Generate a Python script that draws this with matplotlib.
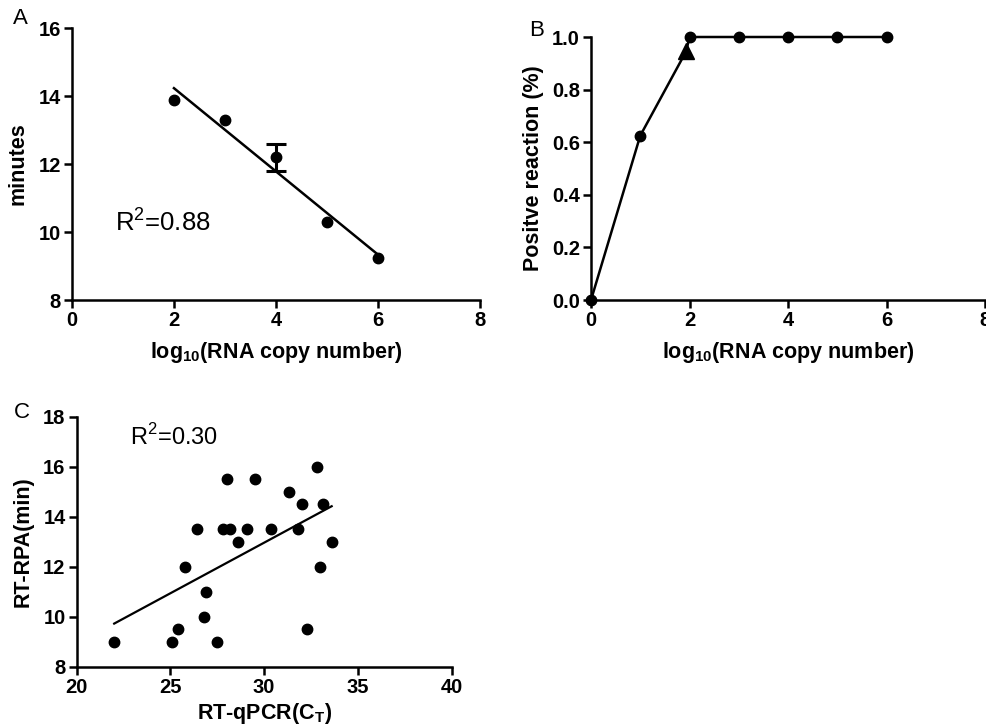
import numpy as np
import matplotlib
matplotlib.use("Agg")
import matplotlib.pyplot as plt

plt.rcParams['font.family'] = ['Liberation Sans', 'DejaVu Sans']
plt.rcParams['mathtext.fontset'] = 'custom'
plt.rcParams['mathtext.rm'] = 'Liberation Sans'
plt.rcParams['mathtext.bf'] = 'Liberation Sans:bold'

# panel A: detection time vs copy number
a_log_copies = [2, 3, 4, 5, 6]
a_minutes = [13.87, 13.3, 12.2, 10.3, 9.25]
a_err = [0, 0, 0.4, 0, 0]

# panel B: fraction of positive reactions
b_log_copies = [0, 1, 2, 3, 4, 5, 6]
b_positive = [0.0, 0.625, 1.0, 1.0, 1.0, 1.0, 1.0]
b_probit_x = [1.93]
b_probit_y = [0.945]

# panel C: RT-RPA time vs RT-qPCR Ct
c_ct = [22.0, 25.1, 25.4, 25.8, 26.4, 26.9, 26.8, 27.5, 28.0, 27.8, 28.2, 28.6,
        29.1, 29.5, 30.35, 31.3, 31.8, 32.0, 32.3, 32.8, 33.15, 33.0, 33.6]
c_rpa = [9.0, 9.0, 9.5, 12.0, 13.5, 11.0, 10.0, 9.0, 15.5, 13.5, 13.5, 13.0,
         13.5, 15.5, 13.5, 15.0, 13.5, 14.5, 9.5, 16.0, 14.5, 12.0, 13.0]

TICK_FS = 14.5
LABEL_FS = 15.5


def style(ax):
    for s in ['top', 'right']:
        ax.spines[s].set_visible(False)
    for s in ['left', 'bottom']:
        ax.spines[s].set_linewidth(1.8)
    ax.tick_params(direction='out', length=6, width=1.8, labelsize=TICK_FS, pad=2)
    for lab in ax.get_xticklabels() + ax.get_yticklabels():
        lab.set_fontweight('bold')


fig = plt.figure(figsize=(9.87, 7.27), dpi=100)

# ---- A
axA = fig.add_axes([0.0729, 0.5873, 0.4134, 0.3741])
k, b = np.polyfit(a_log_copies, a_minutes, 1)
xs = np.array([a_log_copies[0], a_log_copies[-1]])
axA.plot(xs, k * xs + b, color='black', lw=1.8)
axA.plot(a_log_copies, a_minutes, 'o', color='black', ms=7.5, clip_on=False)
has_err = [i for i, e in enumerate(a_err) if e > 0]
axA.errorbar([a_log_copies[i] for i in has_err], [a_minutes[i] for i in has_err],
             yerr=[a_err[i] for i in has_err], fmt='none', ecolor='black',
             capsize=7, elinewidth=2.2, capthick=2.2)
axA.set_xlim(0, 8)
axA.set_ylim(8, 16)
axA.set_xticks([0, 2, 4, 6, 8])
axA.set_yticks([8, 10, 12, 14, 16])
axA.set_xlabel(r'log$_{\mathbf{10}}$(RNA copy number)', fontsize=LABEL_FS, fontweight='bold', labelpad=7)
axA.set_ylabel('minutes', fontsize=LABEL_FS, fontweight='bold', labelpad=7)
axA.text(0.84, 10.3, r'R$^2$=0.88', fontsize=18.5, va='center')
style(axA)

# ---- B
axB = fig.add_axes([0.5988, 0.5873, 0.3992, 0.3618])
axB.plot(b_log_copies[:2] + b_probit_x + b_log_copies[2:],
         b_positive[:2] + b_probit_y + b_positive[2:], color='black', lw=1.8,
         clip_on=False)
axB.plot(b_log_copies, b_positive, 'o', color='black', ms=7.5, clip_on=False)
axB.plot(b_probit_x, b_probit_y, '^', color='black', ms=11, clip_on=False)
axB.set_xlim(0, 8)
axB.set_ylim(0, 1.0)
axB.set_xticks([0, 2, 4, 6, 8])
axB.set_yticks([0.0, 0.2, 0.4, 0.6, 0.8, 1.0])
axB.yaxis.set_major_formatter(matplotlib.ticker.FormatStrFormatter('%.1f'))
axB.set_xlabel(r'log$_{\mathbf{10}}$(RNA copy number)', fontsize=LABEL_FS, fontweight='bold', labelpad=7)
axB.set_ylabel('Positve reaction (%)', fontsize=LABEL_FS, fontweight='bold', labelpad=6)
style(axB)

# ---- C
axC = fig.add_axes([0.0777, 0.0829, 0.3799, 0.3439])
k2, b2 = np.polyfit(c_ct, c_rpa, 1)
xs2 = np.array([min(c_ct), max(c_ct)])
axC.plot(xs2, k2 * xs2 + b2, color='black', lw=1.6)
axC.plot(c_ct, c_rpa, 'o', color='black', ms=7.5, clip_on=False)
axC.set_xlim(20, 40)
axC.set_ylim(8, 18)
axC.set_xticks([20, 25, 30, 35, 40])
axC.set_yticks([8, 10, 12, 14, 16, 18])
axC.set_xlabel(r'RT-qPCR(C$_{\mathbf{T}}$)', fontsize=LABEL_FS, fontweight='bold', labelpad=3)
axC.set_ylabel('RT-RPA(min)', fontsize=LABEL_FS, fontweight='bold', labelpad=7)
axC.text(22.84, 17.19, r'R$^2$=0.30', fontsize=17, va='center')
style(axC)

fig.text(20 / 987, 1 - 18 / 727, 'A', fontsize=16, ha='center', va='center')
fig.text(537 / 987, 1 - 30 / 727, 'B', fontsize=16, ha='center', va='center')
fig.text(22 / 987, 1 - 412 / 727, 'C', fontsize=16, ha='center', va='center')

fig.savefig('out.png', dpi=100)
